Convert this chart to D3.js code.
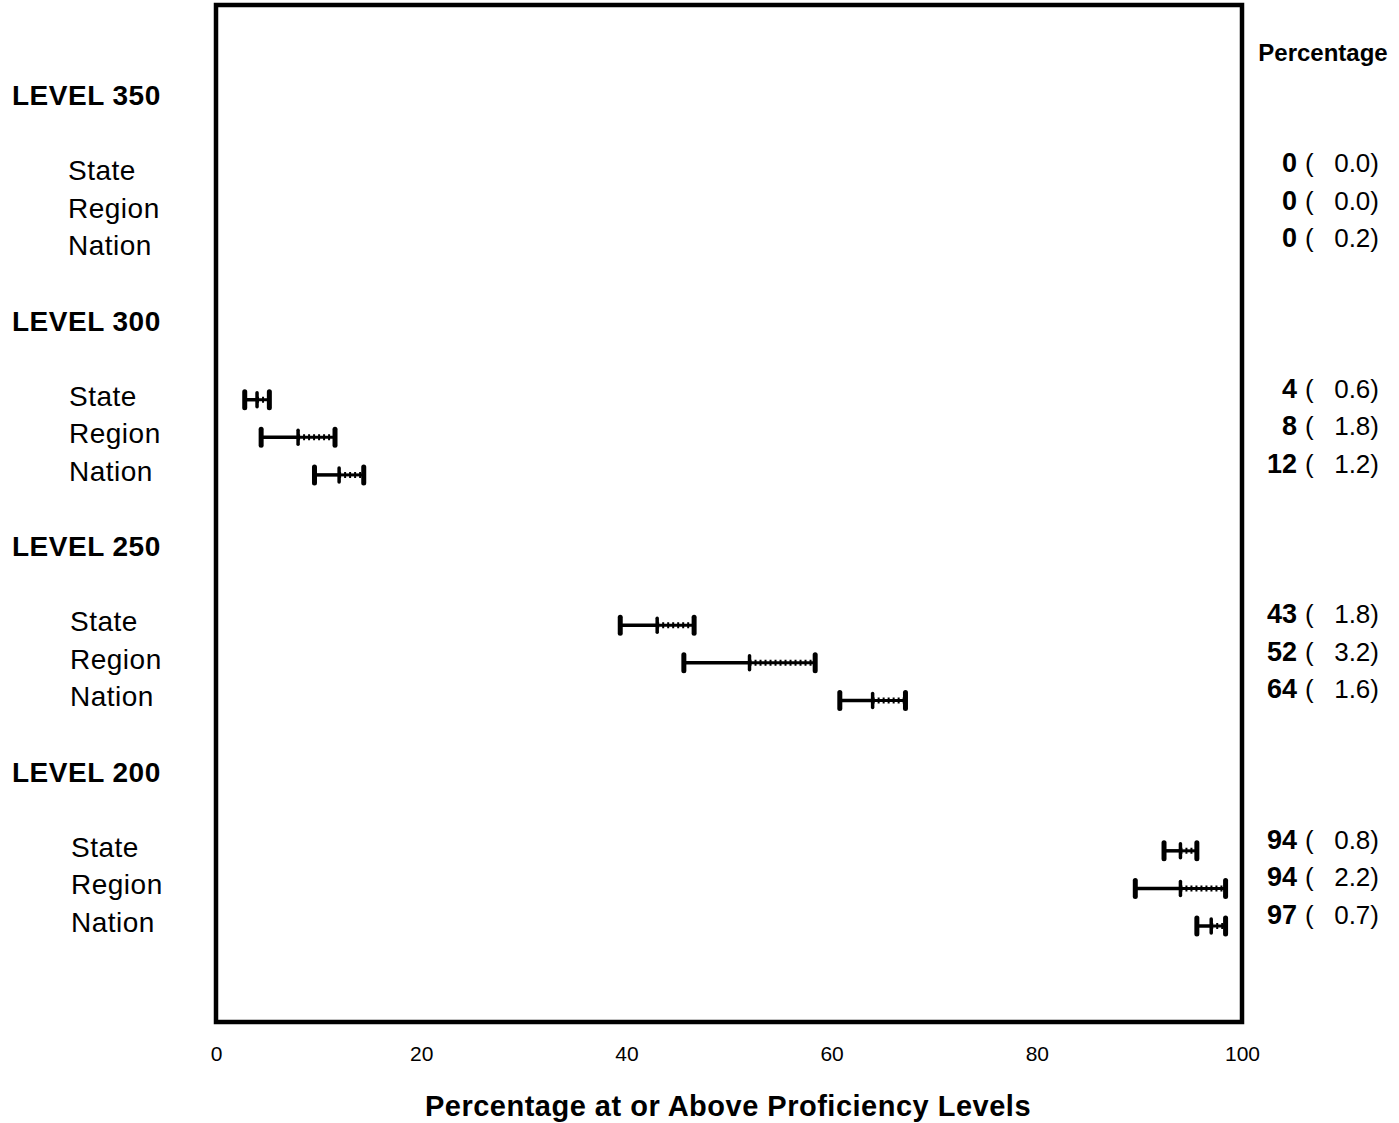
<!DOCTYPE html>
<html>
<head>
<meta charset="utf-8">
<script src="https://cdnjs.cloudflare.com/ajax/libs/d3/7.8.5/d3.min.js"></script>
<style>
  body { margin: 0; background: #fff; }
  text { font-family: "Liberation Sans", Arial, Helvetica, sans-serif; fill: #000; }
</style>
</head>
<body>
<div id="chart"></div>
<script>
var width = 1399;
var height = 1123;

// data
var levels = ["LEVEL 350", "LEVEL 300", "LEVEL 250", "LEVEL 200"];
var groups = ["State", "Region", "Nation"];
var pct = [
    [0, 0, 0],
    [4, 8, 12],
    [43, 52, 64],
    [94, 94, 97]
];
var se = [
    [0.0, 0.0, 0.2],
    [0.6, 1.8, 1.2],
    [1.8, 3.2, 1.6],
    [0.8, 2.2, 0.7]
];
var xTicks = [0, 20, 40, 60, 80, 100];

var plotLeft = 216, plotRight = 1242, plotTop = 5, plotBottom = 1022;

var svg = d3.select("#chart").append("svg")
    .attr("width", width)
    .attr("height", height);

var x = d3.scaleLinear().domain([0, 100]).range([plotLeft, plotRight]);
// each level takes 6 row slots: header, gap, state, region, nation, gap
var y = d3.scaleLinear().domain([0, 22]).range([95, 922]);

// frame
svg.append("rect")
    .attr("x", x(0))
    .attr("y", plotTop)
    .attr("width", x(100) - x(0))
    .attr("height", plotBottom - plotTop)
    .attr("fill", "none")
    .attr("stroke", "#000")
    .attr("stroke-width", 4.5);

// x axis
var xAxis = d3.axisBottom(x)
    .tickValues(xTicks)
    .tickSize(0)
    .tickPadding(24);
var gx = svg.append("g")
    .attr("transform", "translate(0," + plotBottom + ")")
    .call(xAxis);
gx.select(".domain").remove();
gx.selectAll("text")
    .style("font-family", "'Liberation Sans Narrow', 'Liberation Sans', Arial, sans-serif")
    .style("font-size", "21px");

svg.append("text")
    .attr("x", 728)
    .attr("y", 1116)
    .style("text-anchor", "middle")
    .style("font-size", "29px")
    .style("letter-spacing", "0.5px")
    .style("font-weight", "bold")
    .text("Percentage at or Above Proficiency Levels");

svg.append("text")
    .attr("x", 1323)
    .attr("y", 61)
    .style("text-anchor", "middle")
    .style("font-size", "24px")
    .style("font-weight", "bold")
    .text("Percentage");

levels.forEach(function(level, i) {
    var base = i * 6;

    svg.append("text")
        .attr("x", 12)
        .attr("y", y(base) + 10)
        .style("font-size", "28px")
        .style("letter-spacing", "0.5px")
        .style("font-weight", "bold")
        .text(level);

    groups.forEach(function(g, j) {
        var slot = base + 2 + j;
        var v = pct[i][j];
        var s = se[i][j];
        var cy = y(slot);

        svg.append("text")
            .attr("x", 68 + i)
            .attr("y", cy + 10)
            .style("font-size", "28px")
            .style("letter-spacing", "0.5px")
            .text(g);

        // right column: value ( se )
        var ry = cy - 8 + 10;
        svg.append("text")
            .attr("x", 1297)
            .attr("y", ry)
            .style("text-anchor", "end")
            .style("font-size", "27px")
            .style("font-weight", "bold")
            .text(v);
        svg.append("text")
            .attr("x", 1305)
            .attr("y", ry)
            .style("font-size", "26px")
            .text("(");
        svg.append("text")
            .attr("x", 1379)
            .attr("y", ry)
            .style("text-anchor", "end")
            .style("font-size", "26px")
            .text(s.toFixed(1) + ")");

        if (v === 0) return;

        // interval: estimate +/- 2 standard errors
        var lo = x(v - 2 * s), mid = x(v), hi = x(v + 2 * s);
        var by = cy + 4;
        var bar = svg.append("g");

        bar.append("line")
            .attr("x1", lo).attr("x2", mid)
            .attr("y1", by).attr("y2", by)
            .attr("stroke", "#000")
            .attr("stroke-width", 3.5);
        bar.append("line")
            .attr("x1", mid).attr("x2", hi)
            .attr("y1", by).attr("y2", by)
            .attr("stroke", "#000")
            .attr("stroke-width", 3);
        bar.append("line")
            .attr("x1", mid).attr("x2", hi)
            .attr("y1", by).attr("y2", by)
            .attr("stroke", "#000")
            .attr("stroke-width", 6)
            .attr("stroke-dasharray", "2,3");
        [lo, hi].forEach(function(px) {
            bar.append("line")
                .attr("x1", px).attr("x2", px)
                .attr("y1", by - 8).attr("y2", by + 8)
                .attr("stroke", "#000")
                .attr("stroke-width", 5)
                .attr("stroke-linecap", "round");
        });
        bar.append("line")
            .attr("x1", mid).attr("x2", mid)
            .attr("y1", by - 7).attr("y2", by + 7)
            .attr("stroke", "#000")
            .attr("stroke-width", 3.5)
            .attr("stroke-linecap", "round");
    });
});
</script>
</body>
</html>
